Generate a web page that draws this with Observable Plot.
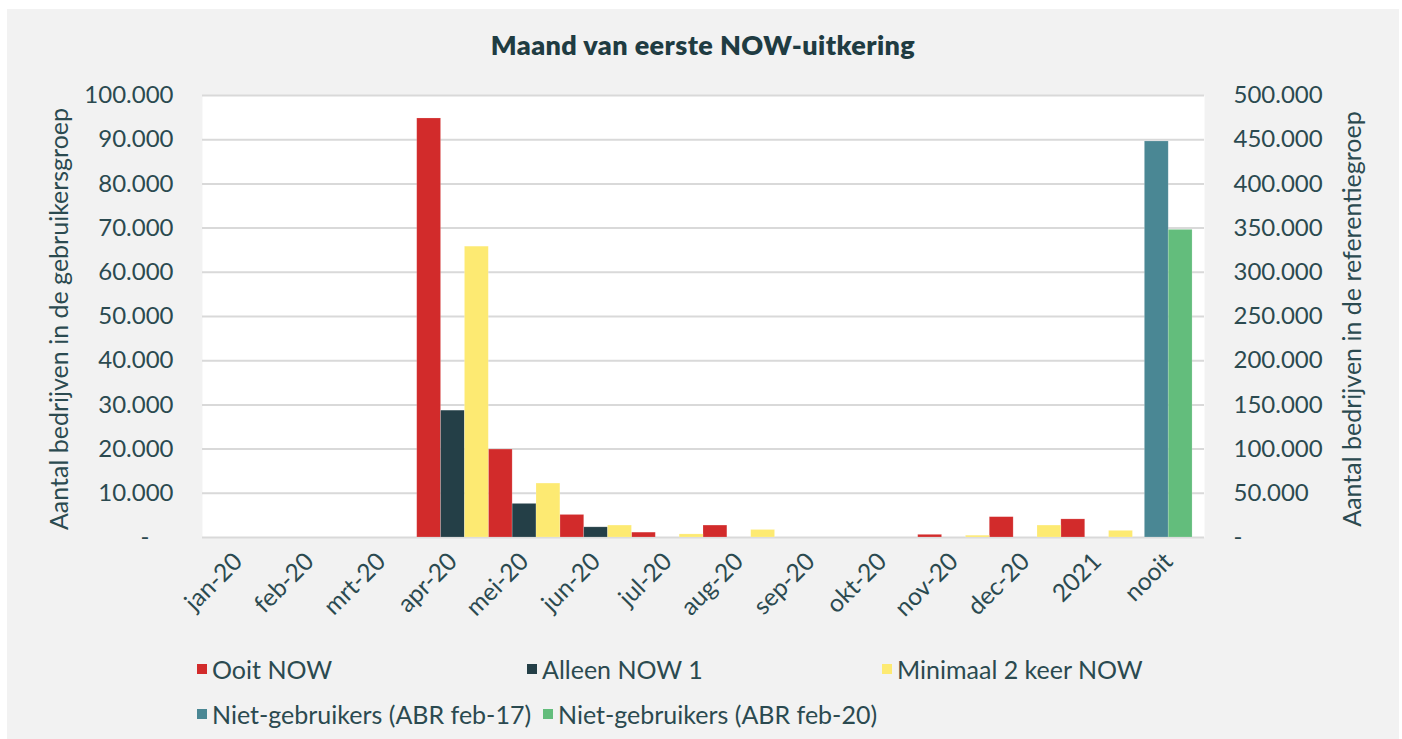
<!DOCTYPE html>
<html>
<head>
<meta charset="utf-8">
<script src="https://cdn.jsdelivr.net/npm/d3@7"></script>
<script src="https://cdn.jsdelivr.net/npm/@observablehq/plot@0.6"></script>
<style>
  html, body { margin: 0; padding: 0; background: #ffffff; }
  body { width: 1402px; height: 739px; position: relative; overflow: hidden; font-family: Lato, "Open Sans", sans-serif; color: #2b4a50; }
  #bg { position: absolute; left: 7px; top: 9px; width: 1392px; height: 730px; background: #f2f2f2; }
  #title { position: absolute; left: 7px; width: 1392px; top: 28px; text-align: center; font-weight: 800; font-size: 27px; letter-spacing: 0.4px; color: #1f3c42; }
  #chart { position: absolute; left: 0; top: 70px; }
  .ytitle { position: absolute; font-size: 25px; white-space: nowrap; color: #2b4a50; transform-origin: center center; }
  #legend { position: absolute; left: 0; top: 649px; width: 1402px; height: 80px; font-size: 25px; letter-spacing: 0px; color: #2b4a50; }
  .item { position: absolute; display: flex; align-items: center; white-space: nowrap; }
  .sw { width: 10px; height: 10px; margin-right: 5px; }
</style>
</head>
<body>
<div id="bg"></div>
<div id="title">Maand van eerste NOW-uitkering</div>
<div id="chart"></div>
<div class="ytitle" id="yl">Aantal bedrijven in de gebruikersgroep</div>
<div class="ytitle" id="yr">Aantal bedrijven in de referentiegroep</div>
<div id="legend"></div>
<script>
// ---- data ----
const months = ["jan-20","feb-20","mrt-20","apr-20","mei-20","jun-20","jul-20","aug-20","sep-20","okt-20","nov-20","dec-20","2021","nooit"];
const ooitNOW      = [0, 0, 0, 94800, 19900, 5100, 1100, 2700, 0, 0, 600, 4600, 4100, 0];
const alleenNOW1   = [0, 0, 0, 28700, 7600, 2300, 0, 0, 0, 0, 0, 0, 0, 0];
const minimaal2NOW = [0, 0, 0, 65800, 12200, 2700, 700, 1700, 0, 0, 400, 2700, 1500, 0];
const nietGebr17   = [0, 0, 0, 0, 0, 0, 0, 0, 0, 0, 0, 0, 0, 448000];
const nietGebr20   = [0, 0, 0, 0, 0, 0, 0, 0, 0, 0, 0, 0, 0, 348000];
const primaryNames   = ["Ooit NOW", "Alleen NOW 1", "Minimaal 2 keer NOW"];
const secondaryNames = ["Niet-gebruikers (ABR feb-17)", "Niet-gebruikers (ABR feb-20)"];
const leftTicks  = [0, 10000, 20000, 30000, 40000, 50000, 60000, 70000, 80000, 90000, 100000];
const rightTicks = [0, 50000, 100000, 150000, 200000, 250000, 300000, 350000, 400000, 450000, 500000];

// ---- styles ----
const colors = {
  "Ooit NOW": "#d22b2b",
  "Alleen NOW 1": "#243f47",
  "Minimaal 2 keer NOW": "#fdea72",
  "Niet-gebruikers (ABR feb-17)": "#4a8794",
  "Niet-gebruikers (ABR feb-20)": "#63bd7c"
};
const ratio = rightTicks[rightTicks.length - 1] / leftTicks[leftTicks.length - 1];

const locale = d3.formatLocale({decimal: ",", thousands: ".", grouping: [3], currency: ["€", ""]});
const fmt = locale.format(",d");

// primary series: three bars filling each month slot; secondary: two bars centred
const rows = [];
[ooitNOW, alleenNOW1, minimaal2NOW].forEach((arr, si) => {
  arr.forEach((v, mi) => {
    if (v > 0) rows.push({series: primaryNames[si], x1: mi + si / 3, x2: mi + (si + 1) / 3, value: v});
  });
});
const secW = 1 / 3;
[nietGebr17, nietGebr20].forEach((arr, si) => {
  arr.forEach((v, mi) => {
    if (v > 0) {
      const start = mi + (1 - 2 * secW) / 2 + si * secW;
      rows.push({series: secondaryNames[si], x1: start, x2: start + secW, value: v / ratio});
    }
  });
});

const W = 1402, H = 600;
const chart = Plot.plot({
  width: W,
  height: H,
  marginLeft: 202,
  marginRight: W - 1204,
  marginTop: 25,
  marginBottom: H - (537 - 70),
  style: {fontFamily: "Lato, 'Open Sans', sans-serif", fontSize: "24px", color: "#2b4a50", background: "transparent", overflow: "visible"},
  x: {type: "linear", domain: [0, months.length], axis: null},
  y: {domain: [0, leftTicks[leftTicks.length - 1]], axis: null},
  marks: [
    Plot.frame({fill: "#ffffff", stroke: null}),
    Plot.gridY(leftTicks, {stroke: "#d9d9d9", strokeOpacity: 1, strokeWidth: 2}),
    Plot.rectY(rows, {x1: "x1", x2: "x2", y1: 0, y2: "value", fill: d => colors[d.series], inset: 0, stroke: "#ffffff", strokeOpacity: 0.25, strokeWidth: 0.7}),
    Plot.axisY(leftTicks, {anchor: "left", tickSize: 0, tickPadding: 29, label: null,
      tickFormat: d => d === 0 ? "-\u2002\u2002" : fmt(d)}),
    Plot.axisY(leftTicks, {anchor: "right", tickSize: 0, tickPadding: 29, label: null,
      tickFormat: d => d === 0 ? "-" : fmt(d * ratio)}),
    Plot.axisX(months.map((m, i) => i + 0.5), {anchor: "bottom", tickSize: 0, tickPadding: 20, tickRotate: -45, label: null,
      fontSize: 24.5, tickFormat: d => months[Math.round(d - 0.5)]})
  ]
});
document.getElementById("chart").appendChild(chart);

// axis titles
const yl = document.getElementById("yl");
const yr = document.getElementById("yr");
function placeTitle(el, cx, cy) {
  const w = el.offsetWidth, h = el.offsetHeight;
  el.style.left = (cx - w / 2) + "px";
  el.style.top = (cy - h / 2) + "px";
  el.style.transform = "rotate(-90deg)";
}
placeTitle(yl, 58, 319);
placeTitle(yr, 1351, 319);

// legend
const legendItems = [
  {name: primaryNames[0], left: 197, top: 5},
  {name: primaryNames[1], left: 527, top: 5},
  {name: primaryNames[2], left: 882, top: 5},
  {name: secondaryNames[0], left: 197, top: 50},
  {name: secondaryNames[1], left: 543, top: 50}
];
const lg = document.getElementById("legend");
legendItems.forEach(it => {
  const d = document.createElement("div");
  d.className = "item";
  d.style.left = it.left + "px";
  d.style.top = it.top + "px";
  const s = document.createElement("span");
  s.className = "sw";
  s.style.background = colors[it.name];
  const t = document.createElement("span");
  t.textContent = it.name;
  d.appendChild(s); d.appendChild(t);
  lg.appendChild(d);
});
</script>
</body>
</html>
